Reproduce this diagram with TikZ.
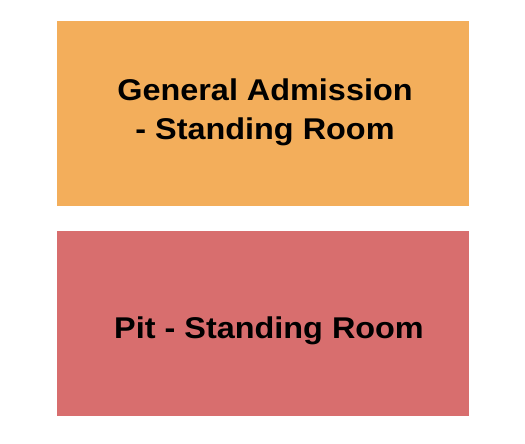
\documentclass[tikz,border=0pt]{standalone}
\usepackage{fontspec}
\setmainfont{Liberation Sans}
\newfontfamily\sectionfont[FakeStretch=1.08]{Liberation Sans}
\usepackage{tikz}
\usetikzlibrary{positioning}
\definecolor{gacolor}{HTML}{F3AE5B}
\definecolor{pitcolor}{HTML}{D86E6E}

\begin{document}
\begin{tikzpicture}[x=1pt, y=-1pt,
                section/.style={rectangle, minimum width=412pt, minimum height=185pt, inner sep=0pt},
                label/.style={inner sep=0pt, align=center,
                    font=\sectionfont\bfseries\fontsize{30}{39.5}\selectfont},
                node distance=25pt]

    \useasboundingbox (0,0) rectangle (525,444);

    \node[section, fill=gacolor] (ga) at (263,113.5) {};
    \node[section, fill=pitcolor, below=of ga] (pit) {};

    \node[label] (galabel) at (265,112.5) {General Admission\\- Standing Room};
    \node[label] (pitlabel) at (269,330.5) {Pit - Standing Room};

\end{tikzpicture}
\end{document}
